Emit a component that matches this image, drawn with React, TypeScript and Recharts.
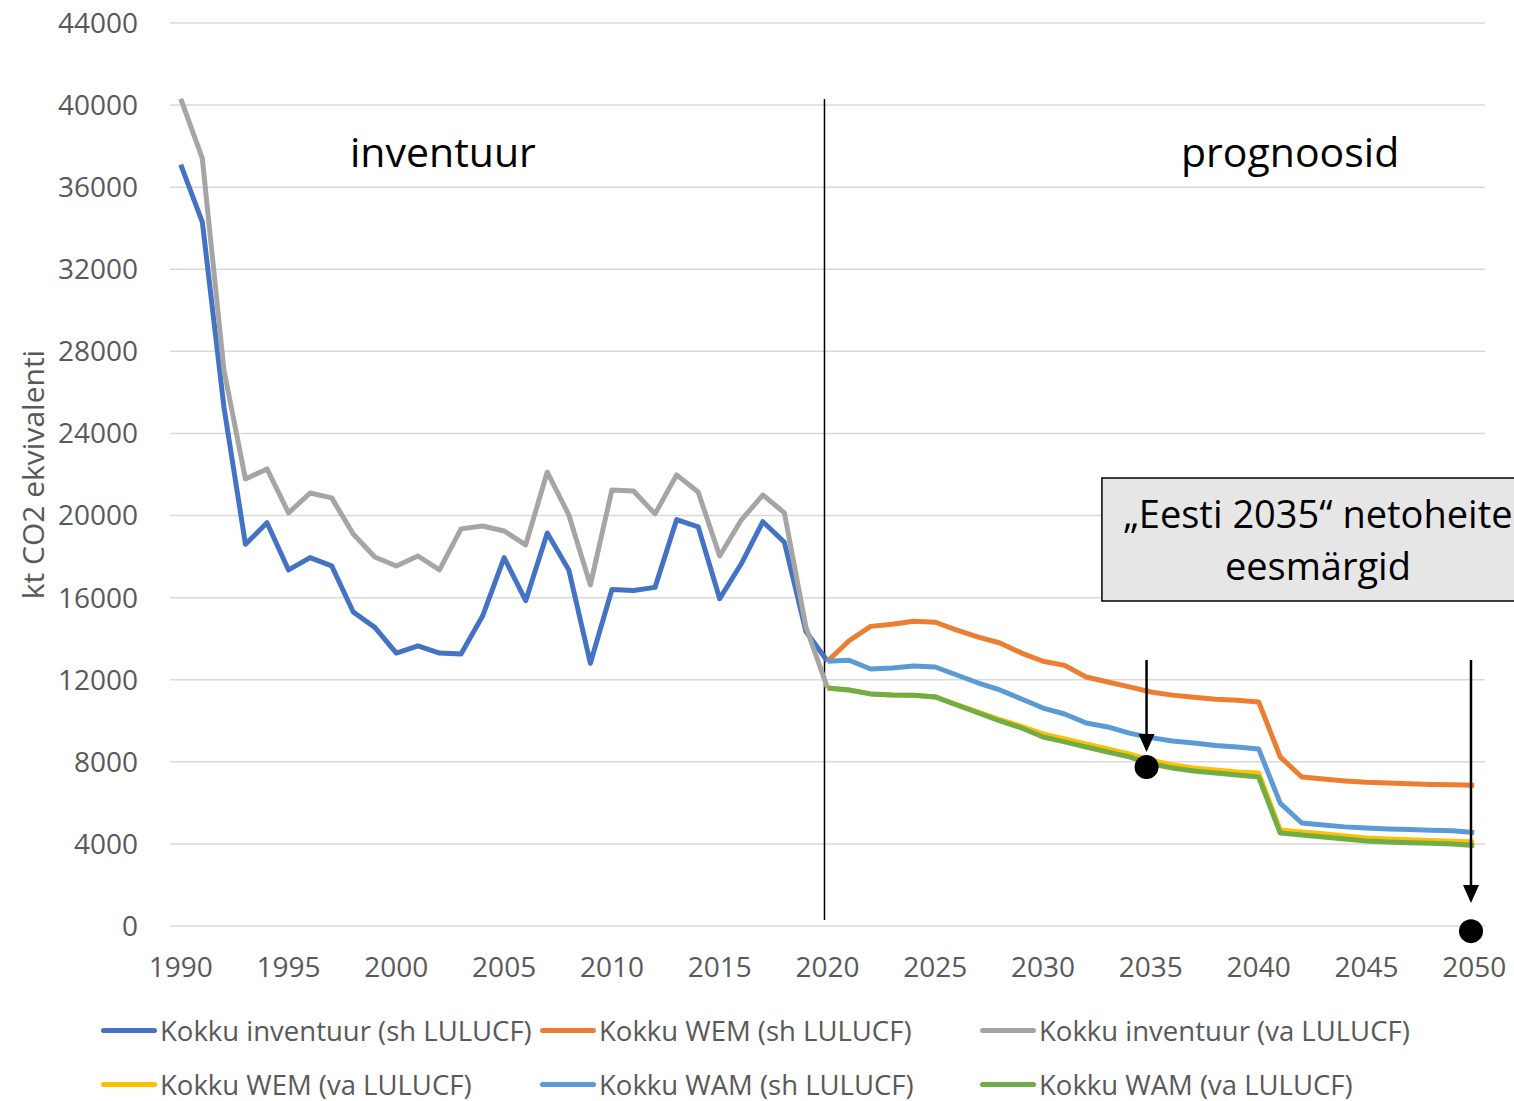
import React from 'react';
import { LineChart, Line, XAxis, YAxis, CartesianGrid, Legend, ReferenceLine, ReferenceDot, ReferenceArea } from 'recharts';

const years = [
  1990, 1991, 1992, 1993, 1994, 1995, 1996, 1997, 1998, 1999,
  2000, 2001, 2002, 2003, 2004, 2005, 2006, 2007, 2008, 2009,
  2010, 2011, 2012, 2013, 2014, 2015, 2016, 2017, 2018, 2019,
  2020, 2021, 2022, 2023, 2024, 2025, 2026, 2027, 2028, 2029,
  2030, 2031, 2032, 2033, 2034, 2035, 2036, 2037, 2038, 2039,
  2040, 2041, 2042, 2043, 2044, 2045, 2046, 2047, 2048, 2049, 2050,
];

// inventuur 1990–2020
const inventuurSh = [
  37100, 34300, 25300, 18600, 19650, 17350, 17950, 17550, 15300, 14550,
  13300, 13650, 13300, 13250, 15100, 17950, 15850, 19150, 17350, 12800,
  16400, 16350, 16500, 19800, 19450, 15950, 17650, 19700, 18700, 14350, 12900,
];
const inventuurVa = [
  40300, 37400, 27100, 21780, 22270, 20130, 21100, 20860, 19100, 17980,
  17540, 18030, 17350, 19350, 19490, 19250, 18570, 22120, 20030, 16620,
  21250, 21200, 20080, 21980, 21150, 18030, 19780, 21000, 20130, 14570, 11600,
];

// prognoosid 2020–2050
const wemSh = [
  12900, 13900, 14600, 14700, 14850, 14800, 14420, 14080, 13790, 13300,
  12900, 12700, 12130, 11890, 11650, 11400, 11250, 11150, 11050, 11000,
  10920, 8240, 7260, 7160, 7070, 7000, 6970, 6930, 6900, 6880, 6860,
];
const wamSh = [
  12900, 12950, 12520, 12570, 12670, 12620, 12230, 11840, 11500, 11060,
  10620, 10330, 9890, 9700, 9400, 9180, 9010, 8920, 8800, 8720,
  8630, 5990, 5020, 4920, 4830, 4770, 4730, 4700, 4670, 4640, 4560,
];
const wemVa = [
  11600, 11500, 11310, 11260, 11240, 11160, 10790, 10420, 10060, 9730,
  9360, 9110, 8870, 8630, 8380, 8080, 7850, 7700, 7600, 7500,
  7460, 4680, 4580, 4490, 4380, 4290, 4240, 4200, 4170, 4130, 4090,
];
const wamVa = [
  11600, 11500, 11310, 11260, 11240, 11160, 10770, 10380, 9990, 9650,
  9210, 8970, 8720, 8480, 8240, 7900, 7700, 7550, 7460, 7360,
  7260, 4530, 4430, 4340, 4240, 4140, 4090, 4060, 4030, 4000, 3920,
];

const yTicks = [0, 4000, 8000, 12000, 16000, 20000, 24000, 28000, 32000, 36000, 40000, 44000];
const xTicks = [1990, 1995, 2000, 2005, 2010, 2015, 2020, 2025, 2030, 2035, 2040, 2045, 2050];

const series = [
  { key: 'invSh', name: 'Kokku inventuur (sh LULUCF)', color: '#4472c4' },
  { key: 'wemSh', name: 'Kokku WEM (sh LULUCF)', color: '#ed7d31' },
  { key: 'invVa', name: 'Kokku inventuur (va LULUCF)', color: '#a5a5a5' },
  { key: 'wemVa', name: 'Kokku WEM (va LULUCF)', color: '#ffc000' },
  { key: 'wamSh', name: 'Kokku WAM (sh LULUCF)', color: '#5b9bd5' },
  { key: 'wamVa', name: 'Kokku WAM (va LULUCF)', color: '#70ad47' },
];

const FONT = '"Open Sans", sans-serif';
const PROJ_START = 30; // index of 2020

const data = years.map((year, i) => ({
  year,
  invSh: i <= PROJ_START ? inventuurSh[i] : null,
  invVa: i <= PROJ_START ? inventuurVa[i] : null,
  wemSh: i >= PROJ_START ? wemSh[i - PROJ_START] : null,
  wamSh: i >= PROJ_START ? wamSh[i - PROJ_START] : null,
  wemVa: i >= PROJ_START ? wemVa[i - PROJ_START] : null,
  wamVa: i >= PROJ_START ? wamVa[i - PROJ_START] : null,
}));

// arrow drawn from a ReferenceLine segment
const Arrow = (props: any) => {
  const { x1, y1, x2, y2 } = props;
  const head = 18;
  return (
    <g>
      <line x1={x1} y1={y1} x2={x2} y2={y2 - head + 2} stroke="#000" strokeWidth={2.5} />
      <polygon points={`${x2 - 8},${y2 - head} ${x2 + 8},${y2 - head} ${x2},${y2}`} fill="#000" />
    </g>
  );
};

const legendPos = [
  { left: 101, top: 44 },
  { left: 540, top: 44 },
  { left: 980, top: 44 },
  { left: 101, top: 98 },
  { left: 540, top: 98 },
  { left: 980, top: 98 },
];

const renderLegend = () => (
  <div style={{ position: 'relative', width: 1514, height: 115, fontFamily: FONT }}>
    {series.map((s, i) => (
      <div
        key={s.key}
        style={{
          position: 'absolute',
          left: legendPos[i].left,
          top: legendPos[i].top - 20,
          height: 40,
          display: 'flex',
          alignItems: 'center',
          whiteSpace: 'nowrap',
        }}
      >
        <div style={{ width: 56, height: 5, borderRadius: 3, background: s.color, marginRight: 3 }} />
        <span style={{ fontSize: 27.5, color: '#595959' }}>{s.name}</span>
      </div>
    ))}
  </div>
);

const BoxLabel = (props: any) => {
  const { viewBox } = props;
  const cx = viewBox.x + viewBox.width / 2;
  return (
    <g fontFamily={FONT} fontSize={38} fill="#000">
      <text x={cx} y={viewBox.y + 50} textAnchor="middle">„Eesti 2035“ netoheite</text>
      <text x={cx} y={viewBox.y + 102} textAnchor="middle">eesmärgid</text>
    </g>
  );
};

const noDot = () => <g />;

export default function App() {
  return (
    <div style={{ position: 'absolute', left: 0, top: 0, width: 1514, height: 1101, background: '#fff' }}>
      <LineChart width={1514} height={1101} data={data} margin={{ top: 23, right: 29, left: 0, bottom: 0 }}>
        <CartesianGrid horizontal vertical={false} stroke="#d9d9d9" strokeWidth={1.5} />
        <XAxis
          dataKey="year"
          type="number"
          domain={[1989.5, 2050.5]}
          ticks={xTicks}
          height={60}
          tickLine={false}
          axisLine={false}
          tickSize={0}
          tickMargin={31}
          tick={{ fontSize: 28, fill: '#595959', fontFamily: FONT }}
        />
        <YAxis
          domain={[0, 44000]}
          ticks={yTicks}
          width={170}
          tickLine={false}
          axisLine={false}
          tickSize={0}
          tickMargin={32}
          tick={{ fontSize: 28, fill: '#595959', fontFamily: FONT }}
          label={{
            content: (p: any) => {
              const vb = p.viewBox;
              const cx = vb.x + 32;
              const cy = vb.y + vb.height / 2;
              return (
                <text
                  x={cx}
                  y={cy}
                  transform={`rotate(-90, ${cx}, ${cy})`}
                  textAnchor="middle"
                  dominantBaseline="central"
                  fontSize={30}
                  fill="#595959"
                  fontFamily={FONT}
                >
                  kt CO2 ekvivalenti
                </text>
              );
            },
          }}
        />
        <Legend verticalAlign="bottom" height={115} content={renderLegend} wrapperStyle={{ left: 0, bottom: 0, width: 1514, height: 115 }} />

        <ReferenceArea
          x1={2032.73}
          x2={2052.77}
          y1={15840}
          y2={21830}
          fill="#e7e6e6"
          fillOpacity={1}
          stroke="#000"
          strokeWidth={1.5}
          ifOverflow="visible"
          label={<BoxLabel />}
        />

        <ReferenceLine
          segment={[{ x: 2019.86, y: 40300 }, { x: 2019.86, y: 290 }]}
          stroke="#000"
          strokeWidth={1.5}
          ifOverflow="visible"
        />

        {series.map((s) => (
          <Line
            key={s.key}
            dataKey={s.key}
            name={s.name}
            stroke={s.color}
            strokeWidth={5}
            dot={false}
            activeDot={false}
            connectNulls={false}
            strokeLinejoin="round"
            isAnimationActive={false}
          />
        ))}

        <ReferenceDot x={2002.16} y={37670} r={0} shape={noDot} ifOverflow="visible"
          label={{ value: 'inventuur', position: 'center', fontSize: 41, fill: '#000', fontFamily: FONT }} />
        <ReferenceDot x={2041.46} y={37670} r={0} shape={noDot} ifOverflow="visible"
          label={{ value: 'prognoosid', position: 'center', fontSize: 41, fill: '#000', fontFamily: FONT }} />

        <ReferenceLine segment={[{ x: 2034.8, y: 12960 }, { x: 2034.8, y: 8480 }]} shape={<Arrow />} ifOverflow="visible" />
        <ReferenceLine segment={[{ x: 2049.85, y: 12960 }, { x: 2049.85, y: 1120 }]} shape={<Arrow />} ifOverflow="visible" />
        <ReferenceDot x={2034.8} y={7750} r={12} fill="#000" stroke="none" ifOverflow="visible" />
        <ReferenceDot x={2049.85} y={-250} r={12} fill="#000" stroke="none" ifOverflow="visible" />
      </LineChart>
    </div>
  );
}
